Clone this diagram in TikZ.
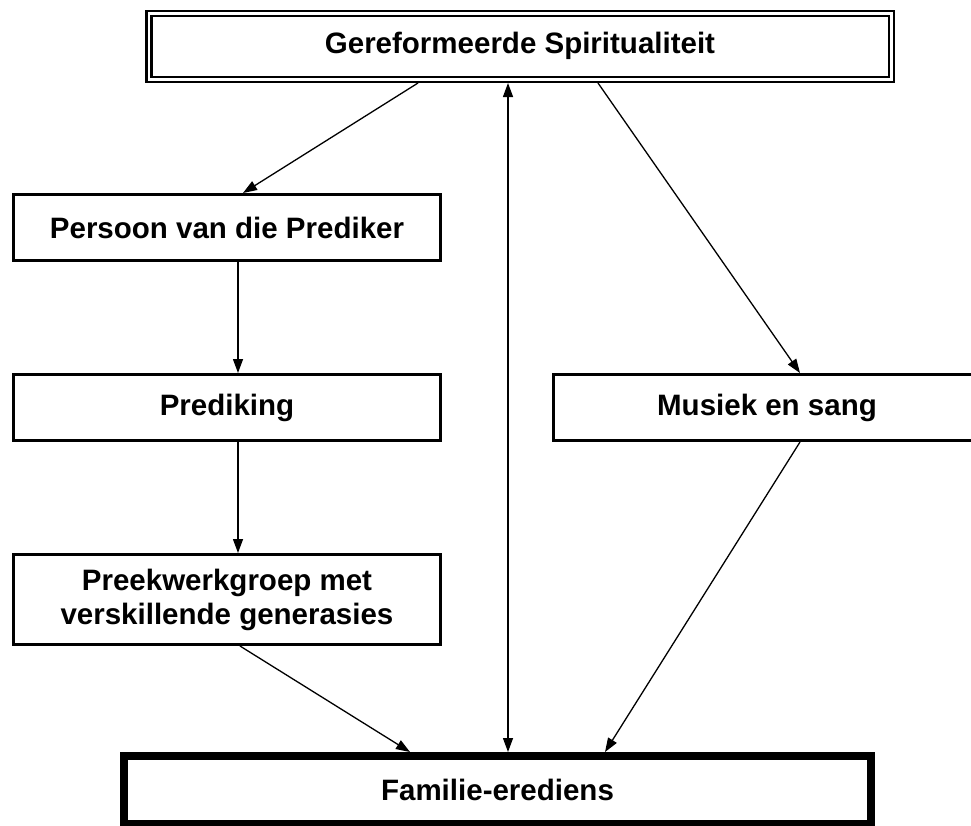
\documentclass[tikz,border=0pt]{standalone}
\usepackage{fontspec}
\setmainfont{Liberation Sans}
\usetikzlibrary{arrows.meta}
\begin{document}
\begin{tikzpicture}[x=1pt,y=-1pt,
  txt/.style={font=\fontsize{29.5}{34}\selectfont\bfseries, align=center, inner sep=0pt},
  plainbox/.style={txt, draw, line width=2.8pt, minimum width=427.2pt},
  topbox/.style={txt, draw, line width=2.5pt, double, double distance=2.5pt, minimum width=742.5pt, minimum height=66pt, outer sep=3.75pt},
  botbox/.style={txt, draw, line width=6.5pt, minimum width=748.5pt, minimum height=69.5pt},
  arr/.style={line width=1.3pt, -{Triangle[length=14pt,width=10pt]}},
  darr/.style={line width=1.3pt, {Triangle[length=14pt,width=10pt]}-{Triangle[length=14pt,width=10pt]}}
]
\useasboundingbox (0,0) rectangle (971,825);

\node[topbox] (top) at (520,46.25) {Gereformeerde Spiritualiteit};
\node[plainbox, minimum height=66.2pt] (persoon) at (227,227.5) {Persoon van die Prediker};
\node[plainbox, minimum height=66.2pt] (prediking) at (227,407.5) {Prediking};
\node[plainbox, minimum height=66.2pt] (musiek) at (767,407.5) {Musiek en sang};
\node[plainbox, minimum height=90.2pt] (preek) at (227,599.5) {Preekwerkgroep met\\verskillende generasies};
\node[botbox] (fam) at (497.5,790) {Familie-erediens};
\draw[line width=1.5pt] ([shift={(7.2pt,-7.2pt)}]fam.north west) rectangle ([shift={(-7.2pt,7.2pt)}]fam.south east);

\draw[arr] ([xshift=-102pt]top.south) -- ([xshift=16pt]persoon.north);
\draw[arr] ([xshift=11pt]persoon.south) -- ([xshift=11pt]prediking.north);
\draw[arr] ([xshift=11pt]prediking.south) -- ([xshift=11pt]preek.north);
\draw[arr] ([xshift=13pt]preek.south) -- ([xshift=-87.5pt]fam.north);
\draw[darr] ([xshift=-12pt]top.south) -- ([xshift=10.5pt]fam.north);
\draw[arr] ([xshift=78pt]top.south) -- ([xshift=33pt]musiek.north);
\draw[arr] ([xshift=33pt]musiek.south) -- ([xshift=107.5pt]fam.north);
\end{tikzpicture}
\end{document}
